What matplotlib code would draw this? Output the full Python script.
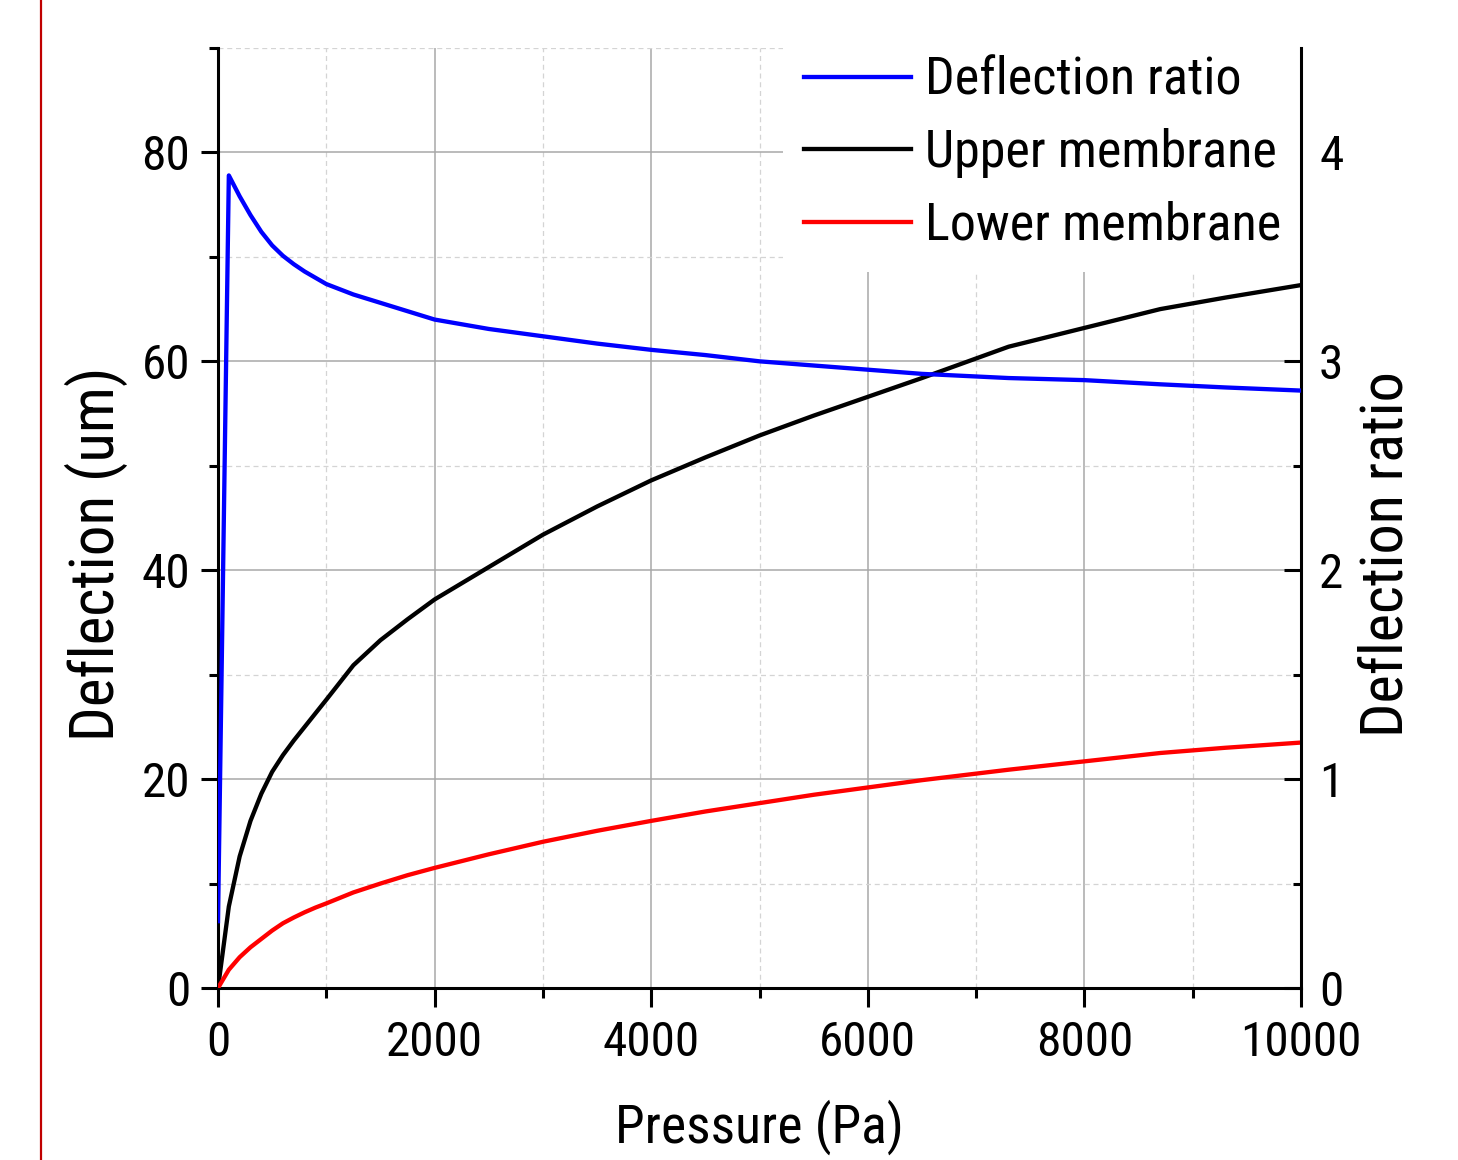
import matplotlib
matplotlib.use("Agg")
import matplotlib.pyplot as plt
from matplotlib.lines import Line2D
from matplotlib.ticker import MultipleLocator

plt.rcParams['font.family'] = ['Roboto Condensed', 'Liberation Sans', 'DejaVu Sans']

pressure = [0, 100, 200, 300, 400, 500, 600, 700, 800, 900, 1000, 1250, 1500, 1750,
            2000, 2500, 3000, 3500, 4000, 4500, 5000, 5500, 6000, 6500, 7300, 8000,
            8700, 9300, 10000]
upper = [0, 7.8, 12.6, 16.0, 18.6, 20.7, 22.3, 23.7, 25.0, 26.3, 27.6, 30.9, 33.3, 35.3,
         37.2, 40.3, 43.4, 46.1, 48.6, 50.8, 52.9, 54.8, 56.6, 58.4, 61.4, 63.2,
         65.0, 66.1, 67.3]
lower = [0, 1.75, 2.95, 3.9, 4.7, 5.5, 6.2, 6.75, 7.25, 7.7, 8.1, 9.15, 10.0, 10.8,
         11.5, 12.8, 14.0, 15.05, 16.0, 16.9, 17.7, 18.5, 19.2, 19.9, 20.9, 21.7,
         22.5, 23.0, 23.5]
ratio = [0.32, 3.89, 3.79, 3.70, 3.62, 3.555, 3.505, 3.465, 3.43, 3.40, 3.37, 3.32, 3.28, 3.24,
         3.20, 3.155, 3.12, 3.085, 3.055, 3.03, 3.00, 2.98, 2.96, 2.94, 2.92, 2.91,
         2.89, 2.875, 2.86]

W, H = 1458, 1160
fig = plt.figure(figsize=(W / 100, H / 100), dpi=100)
ax = fig.add_axes([218 / W, 1 - 988 / H, (1301 - 218) / W, (988 - 48) / H])
ax2 = ax.twinx()

lw = 3.1
l_up, = ax.plot(pressure, upper, color='black', lw=lw, label='Upper membrane', zorder=3)
l_lo, = ax.plot(pressure, lower, color='#ff0000', lw=lw, label='Lower membrane', zorder=3)
l_ra, = ax2.plot(pressure, ratio, color='#0000ff', lw=lw, label='Deflection ratio', zorder=3)

ax.set_xlim(0, 10000)
ax.set_ylim(0, 90)
ax2.set_ylim(0, 4.5)

ax.xaxis.set_major_locator(MultipleLocator(2000))
ax.xaxis.set_minor_locator(MultipleLocator(1000))
ax.yaxis.set_major_locator(MultipleLocator(20))
ax.yaxis.set_minor_locator(MultipleLocator(10))
ax2.yaxis.set_major_locator(MultipleLocator(1))
ax2.yaxis.set_minor_locator(MultipleLocator(0.5))

ax.grid(True, which='major', color='#a8a8a8', lw=1.1, ls='-')
ax.grid(True, which='minor', color='#d4d4d4', lw=0.9, ls=(0, (4, 3)))

for a in (ax, ax2):
    a.spines['top'].set_visible(False)
    for s in a.spines.values():
        s.set_linewidth(2.2)
ax.spines['right'].set_visible(False)
ax2.spines['left'].set_visible(False)
ax2.spines['bottom'].set_visible(False)

fs_tick = 35.5
ax.tick_params(axis='x', which='major', direction='out', length=14, width=2.2,
               labelsize=fs_tick, pad=9)
ax.tick_params(axis='x', which='minor', direction='out', length=7, width=2.2)
ax.tick_params(axis='y', which='major', direction='out', length=12, width=2.2,
               labelsize=fs_tick, pad=8)
ax.tick_params(axis='y', which='minor', direction='out', length=6.5, width=2.2)
ax2.tick_params(axis='y', which='major', direction='in', length=12, width=2.2,
                labelsize=fs_tick, pad=13)
ax2.tick_params(axis='y', which='minor', direction='in', length=6, width=2.2)
ax2.set_yticks([0, 1, 2, 3, 4])
ax2.set_yticklabels(['0', '1', '2', '3', '4'])
ax.set_yticks([0, 20, 40, 60, 80])

ax.set_xlabel('Pressure (Pa)', fontsize=38.5)
ax.set_ylabel('Deflection (um)', fontsize=44)
ax2.set_ylabel('Deflection ratio', fontsize=43.5)
ax.xaxis.set_label_coords(0.5, -0.119)
ax.yaxis.set_label_coords(-0.083, 0.462)
ax2.yaxis.set_label_coords(1.0525, 0.462)

leg = ax2.legend(handles=[l_ra, l_up, l_lo], loc='upper left',
                 bbox_to_anchor=(0.5217, 1.0137), fontsize=37.5, frameon=True,
                 facecolor='white', edgecolor='none', framealpha=1.0,
                 handlelength=2.05, handletextpad=0.28, labelspacing=0.43,
                 borderpad=0.4, borderaxespad=0.0, fancybox=False)
leg.set_zorder(2.2)

fig.add_artist(Line2D([40.5 / W, 40.5 / W], [0, 1], color='#c00000', lw=1.6,
                      transform=fig.transFigure))

fig.savefig('out.png', dpi=100, facecolor='white')
